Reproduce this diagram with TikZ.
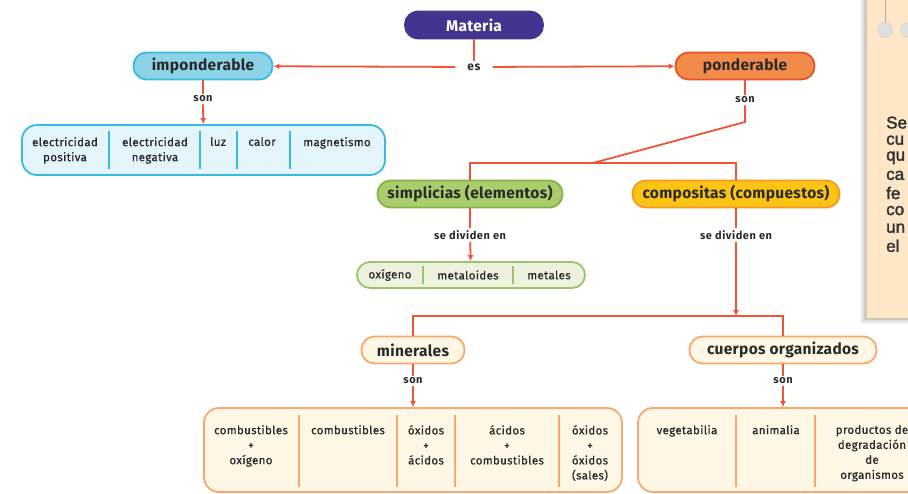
\documentclass[tikz,border=0pt]{standalone}
\usepackage{fontspec}
\setmainfont{Fira Sans}
\newfontfamily\notefont[FakeBold=2]{Liberation Sans}
\newfontfamily\labfont[LetterSpace=5]{Fira Sans}
\newfontfamily\cellfont[LetterSpace=3, FakeBold=0.8]{Fira Sans}
\newfontfamily\pillfont[LetterSpace=2]{Fira Sans}
\usetikzlibrary{arrows.meta}
\definecolor{linec}{HTML}{EE5538}
\definecolor{matfill}{HTML}{41358F}
\definecolor{impfill}{HTML}{8DD3E8}
\definecolor{impdraw}{HTML}{38BADF}
\definecolor{impgfill}{HTML}{E4F4FB}
\definecolor{pondfill}{HTML}{F28A4A}
\definecolor{ponddraw}{HTML}{E8502A}
\definecolor{simpfill}{HTML}{A9CD6A}
\definecolor{simpdraw}{HTML}{86B247}
\definecolor{simpgfill}{HTML}{ECF2DE}
\definecolor{compfill}{HTML}{FBC313}
\definecolor{compdraw}{HTML}{F59A20}
\definecolor{creamfill}{HTML}{FFF7E6}
\definecolor{creamdraw}{HTML}{F6A96A}
\definecolor{notefill}{HTML}{FDE7C6}
\definecolor{txt}{HTML}{2A2A2A}
\tikzset{
  pill/.style={rounded corners=13pt, line width=1.8pt, minimum height=27pt, inner sep=0pt,
    font=\pillfont\fontsize{15.5}{15.5}\selectfont\bfseries, text=txt},
  grp/.style={rounded corners=15pt, line width=1.8pt, inner sep=0pt},
  lab/.style={font=\labfont\fontsize{11}{11}\selectfont\bfseries, text=txt, inner sep=2pt},
  cell/.style={font=\cellfont\fontsize{11.5}{15}\selectfont, text=txt, align=center, inner sep=0pt},
  conn/.style={draw=linec, line width=1.8pt},
  arr/.style={conn, -{Latex[length=6pt,width=6pt]}},
  divi/.style={line width=1.5pt},
}
\begin{document}
\begin{tikzpicture}[x=1pt,y=-1pt]
\clip (0,0) rectangle (908,493);
\fill[white] (0,0) rectangle (908,493);
% note panel with soft shadow
\foreach \s/\o in {6/0.05,4/0.07,2/0.09}{
  \fill[black, opacity=\o] (866-\s,-5) rectangle (930,318+\s);
}
\node[fill=notefill, draw=notefill!85!black, line width=0.4pt, minimum width=64pt, minimum height=323pt, inner sep=0pt] (note) at (898,156.5) {};
\draw[gray!60, line width=1pt] (885,0) -- (885,24);
\node[circle, fill=gray!25, draw=gray!35, minimum size=15pt, inner sep=0pt] (pin1) at (885,30) {};
\node[circle, fill=gray!25, draw=gray!35, minimum size=15pt, inner sep=0pt] (pin2) at (908,30) {};
\foreach \w [count=\i] in {Se,cu,qu,ca,fe,co,un,el}{
  \node[anchor=west, inner sep=0pt, font=\notefont\fontsize{17}{17}\selectfont, text=black!80] (nt\i) at (886,105+17.6*\i) {\w};
}
% top level
\node[pill, fill=matfill, draw=matfill, text=white, minimum width=138pt] (materia) at (474,25) {Materia};
\node[lab, inner xsep=12pt, font=\labfont\fontsize{12}{12}\selectfont\bfseries] (es) at (474,67) {es};
\node[pill, fill=impfill, draw=impdraw, minimum width=139pt] (impond) at (203,66) {imponderable};
\node[pill, fill=pondfill, draw=ponddraw, minimum width=139pt] (pond) at (745,66) {ponderable};
\draw[conn] (materia) -- (es);
\draw[arr] (es) -- (impond);
\draw[arr] (es) -- (pond);
% imponderable
\node[lab] (son1) at (203,99) {son};
\node[grp, fill=impgfill, draw=impdraw, minimum width=363pt, minimum height=50pt] (impg) at (203.5,150) {};
\draw[conn] (impond) -- (son1);
\draw[arr] (son1) -- (impg);
\foreach \x in {109,200,237,290}{\draw[divi, draw=impdraw] (\x,131) -- (\x,169);}
\node[cell, anchor=north] (ip1) at (65,137) {electricidad\\positiva};
\node[cell, anchor=north] (ip2) at (155,137) {electricidad\\negativa};
\node[cell, anchor=north] (ip3) at (218,137) {luz};
\node[cell, anchor=north] (ip4) at (262,137) {calor};
\node[cell, anchor=north] (ip5) at (337,137) {magnetismo};
% ponderable
\node[lab] (son2) at (745,100) {son};
\node[pill, fill=simpfill, draw=simpdraw, minimum width=185pt] (simp) at (470,194) {simplicias (elementos)};
\node[pill, fill=compfill, draw=compdraw, minimum width=207pt] (comp) at (736,194) {compositas (compuestos)};
\coordinate (j1) at (745,122);
\coordinate (j2) at (593,163);
\draw[conn] (pond) -- (son2);
\draw[conn] (son2) -- (j1) -- (j2);
\draw[conn] (simp.north) -- (simp.north |- j2) -- (comp.north |- j2) -- (comp.north);
% simplicias
\node[lab] (sd1) at (470,235) {se dividen en};
\node[grp, rounded corners=13pt, fill=simpgfill, draw=simpdraw!80, minimum width=228pt, minimum height=26pt] (simpg) at (471,275) {};
\draw[conn] (simp) -- (sd1);
\draw[arr] (sd1) -- (simpg);
\foreach \x in {423,513}{\draw[divi, draw=simpdraw!80] (\x,266) -- (\x,284);}
\node[cell] (sg1) at (390,275) {oxígeno};
\node[cell] (sg2) at (468,275) {metaloides};
\node[cell] (sg3) at (549,275) {metales};
% compositas
\node[lab] (sd2) at (736,235) {se dividen en};
\coordinate (j3) at (736,316);
\draw[conn] (comp) -- (sd2);
\draw[arr] (sd2) -- (j3);
\node[pill, fill=creamfill, draw=creamdraw, minimum width=103pt] (mine) at (413,350) {minerales};
\node[pill, fill=creamfill, draw=creamdraw, minimum width=187pt] (cuer) at (783,350) {cuerpos organizados};
\draw[conn] (mine.north) -- (mine.north |- j3) -- (cuer.north |- j3) -- (cuer.north);
% minerales
\node[lab] (son3) at (413,381) {son};
\node[grp, fill=creamfill, draw=creamdraw, minimum width=418pt, minimum height=84pt] (mineg) at (413,450) {};
\draw[conn] (mine) -- (son3);
\draw[arr] (son3) -- (mineg);
\foreach \x in {299,397,455,559}{\draw[divi, draw=creamdraw] (\x,415) -- (\x,487);}
\node[cell, anchor=north] (m1) at (251,425) {combustibles\\+\\oxígeno};
\node[cell, anchor=north] (m2) at (348,425) {combustibles};
\node[cell, anchor=north] (m3) at (426,425) {óxidos\\+\\ácidos};
\node[cell, anchor=north] (m4) at (507,425) {ácidos\\+\\combustibles};
\node[cell, anchor=north] (m5) at (590,425) {óxidos\\+\\óxidos\\(sales)};
% cuerpos organizados
\node[lab] (son4) at (783,381) {son};
\node[grp, fill=creamfill, draw=creamdraw, minimum width=312pt, minimum height=84pt] (cuerg) at (794,450) {};
\draw[conn] (cuer) -- (son4);
\draw[arr] (son4) -- (cuer.south |- cuerg.north);
\foreach \x in {736,815}{\draw[divi, draw=creamdraw] (\x,415) -- (\x,487);}
\node[cell, anchor=north] (c1) at (687,425) {vegetabilia};
\node[cell, anchor=north] (c2) at (776,425) {animalia};
\node[cell, anchor=north] (c3) at (872,425) {productos de\\degradación\\de\\organismos};
\end{tikzpicture}
\end{document}
